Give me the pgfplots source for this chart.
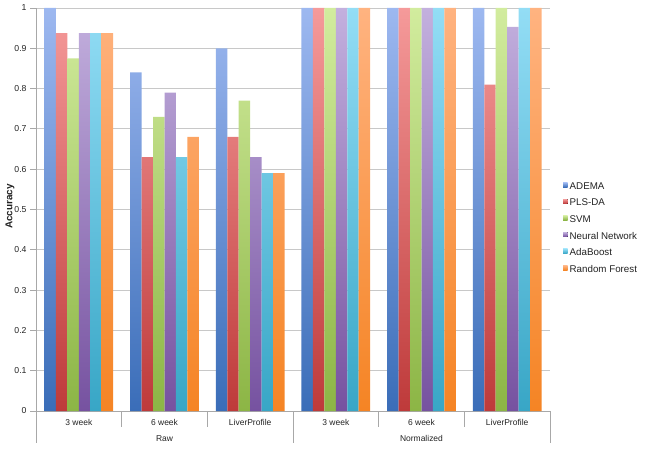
\documentclass[border=0pt]{standalone}
\usepackage{pgfplots}
\pgfplotsset{compat=1.18}
\usepackage{pgfplotstable}
\usepackage{fontspec}
\setmainfont{Liberation Sans}

\definecolor{blueT}{HTML}{9DB8F0}\definecolor{blueB}{HTML}{3A6DB8}
\definecolor{redT}{HTML}{F59A9A}\definecolor{redB}{HTML}{BE3A3A}
\definecolor{greenT}{HTML}{D2EC9E}\definecolor{greenB}{HTML}{8CB545}
\definecolor{purpT}{HTML}{C3B0DE}\definecolor{purpB}{HTML}{7652A0}
\definecolor{cyanT}{HTML}{93DDF5}\definecolor{cyanB}{HTML}{38A6C6}
\definecolor{orT}{HTML}{FFB380}\definecolor{orB}{HTML}{F58424}
\definecolor{gridc}{HTML}{C8C8C8}
\definecolor{axc}{HTML}{A8A8A8}
\definecolor{txt}{HTML}{222222}

% accuracy per dataset (x = 0..5: Raw 3w, 6w, LP, Normalized 3w, 6w, LP)
\pgfplotstableread{
x adema  plsda  svm    nn     ada    rf
0 1.000  0.9375 0.875  0.9375 0.9375 0.9375
1 0.840  0.630  0.730  0.790  0.630  0.680
2 0.900  0.680  0.770  0.630  0.590  0.590
3 1.000  1.000  1.000  1.000  1.000  1.000
4 1.000  1.000  1.000  1.000  1.000  1.000
5 1.000  0.810  1.000  0.953  1.000  1.000
}\acc

\begin{document}
\begin{tikzpicture}
\useasboundingbox (0,0) rectangle (645bp,451bp);
\begin{axis}[
    at={(36bp,40bp)}, anchor=south west,
    scale only axis,
    width=514bp, height=403bp,
    ybar=0pt, bar width=11.45bp,
    xmin=-0.5, xmax=5.5,
    ymin=0, ymax=1,
    clip=false,
    axis x line*=bottom, axis y line*=left,
    axis line style={axc, line width=0.8pt},
    xtick={0,...,5},
    xticklabels={3 week,6 week,LiverProfile,3 week,6 week,LiverProfile},
    x tick style={draw=none},
    xticklabel style={anchor=base, yshift=-8bp, font=\fontsize{8.5}{10}\selectfont, text=txt},
    ytick={0,0.1,...,1.01},
    yticklabel style={/pgf/number format/fixed, font=\fontsize{8.7}{10}\selectfont, text=txt},
    /pgf/number format/assume math mode=true,
    y tick style={axc, line width=0.8pt},
    tick align=outside, major tick length=6bp,
    ymajorgrids, grid style={gridc, line width=0.8pt},
    legend style={at={(axis description cs:1,0.572)}, xshift=13bp, anchor=north west,
        draw=none, fill=none, font=\fontsize{9.8}{10}\selectfont, text=txt,
        row sep=4.2bp, inner sep=0pt,
        cells={anchor=west}},
    legend image code/.code={\fill[#1] (0bp,-0.3bp) rectangle (4.5bp,4.2bp);},
    /tikz/every even column/.append style={column sep=2.5bp},
]
\addplot[draw=none, top color=blueT, bottom color=blueB] table[x=x, y=adema] {\acc};
\addplot[draw=none, top color=redT, bottom color=redB] table[x=x, y=plsda] {\acc};
\addplot[draw=none, top color=greenT, bottom color=greenB] table[x=x, y=svm] {\acc};
\addplot[draw=none, top color=purpT, bottom color=purpB] table[x=x, y=nn] {\acc};
\addplot[draw=none, top color=cyanT, bottom color=cyanB] table[x=x, y=ada] {\acc};
\addplot[draw=none, top color=orT, bottom color=orB] table[x=x, y=rf] {\acc};
\legend{ADEMA, PLS-DA, SVM, Neural Network, AdaBoost, Random Forest}

% category separators under the axis
\pgfplotsinvokeforeach{0.5,1.5,3.5,4.5}{
  \draw[axc, line width=0.8pt] (axis cs:#1,0) -- ([yshift=-16bp]axis cs:#1,0);
}
\pgfplotsinvokeforeach{-0.5,2.5,5.5}{
  \draw[axc, line width=0.8pt] (axis cs:#1,0) -- ([yshift=-32bp]axis cs:#1,0);
}
\node[anchor=base, font=\fontsize{8.5}{10}\selectfont, text=txt] at ([yshift=-30bp]axis cs:1,0) {Raw};
\node[anchor=base, font=\fontsize{8.5}{10}\selectfont, text=txt] at ([yshift=-30bp]axis cs:4,0) {Normalized};
\node[rotate=90, font=\bfseries\fontsize{10}{12}\selectfont, text=txt] at ([xshift=-26bp, yshift=3bp]rel axis cs:0,0.5) {Accuracy};
\end{axis}
\end{tikzpicture}
\end{document}
